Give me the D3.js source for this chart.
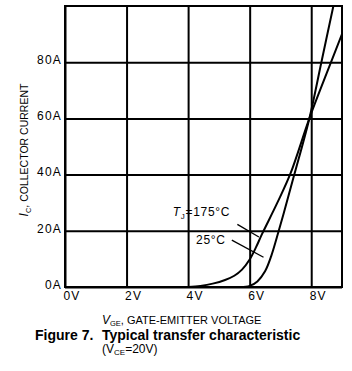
<html>
<head>
<meta charset="utf-8">
<title>Figure 7</title>
<style>
  body { margin: 0; background: #fff; }
  text { font-family: "Liberation Sans", Arial, sans-serif; fill: #000; }
</style>
<script src="https://d3js.org/d3.v7.min.js"></script>
</head>
<body>
<script>
// values
var vgeHot = [4.0, 4.4, 4.8, 5.2, 5.5, 5.75, 6.0, 6.2, 6.4, 6.9, 7.33, 7.94, 8.5, 9.0];
var icHot  = [0, 0.4, 1.2, 2.5, 4.0, 6.2, 9.8, 14.0, 18.8, 30, 40.5, 60, 76, 90];
var vgeCold = [5.7, 6.0, 6.25, 6.5, 6.7, 6.88, 7.1, 7.45, 7.94, 8.33, 8.72];
var icCold  = [0, 0.4, 2.0, 5.6, 11, 17.5, 26, 40, 60, 80, 100];
var xTicks = [0, 2, 4, 6, 8];
var xTickLabels = ["0V", "2V", "4V", "6V", "8V"];
var yTicks = [0, 20, 40, 60, 80];
var yTickLabels = ["0A", "20A", "40A", "60A", "80A"];

var width = 352, height = 371;
var pLeft = 65, pRight = 342, pTop = 6, pBottom = 287;

var svg = d3.select("body").append("svg")
  .attr("width", width)
  .attr("height", height);

var x = d3.scaleLinear().domain([0, 9]).range([pLeft, pRight]);
var y = d3.scaleLinear().domain([0, 100]).range([pBottom, pTop]);

// grid (vertical)
var gx = svg.append("g")
  .attr("transform", "translate(0," + pBottom + ")")
  .call(d3.axisBottom(x).tickValues(xTicks).tickSize(-(pBottom - pTop))
    .tickFormat(function(d, i) { return xTickLabels[i]; }));
gx.select(".domain").remove();
gx.selectAll("line").attr("stroke", "#000").attr("stroke-width", 2);
gx.selectAll("text")
  .attr("text-anchor", "start")
  .attr("x", -2)
  .attr("y", 13)
  .attr("dy", null)
  .attr("fill", "#000")
  .style("font-family", "Liberation Sans, Arial, sans-serif")
  .style("font-size", "12px")
  .style("letter-spacing", "1.2px");

// grid (horizontal)
var gy = svg.append("g")
  .attr("transform", "translate(" + pLeft + ",0)")
  .call(d3.axisLeft(y).tickValues(yTicks).tickSize(-(pRight - pLeft))
    .tickFormat(function(d, i) { return yTickLabels[i]; }));
gy.select(".domain").remove();
gy.selectAll("line").attr("stroke", "#000").attr("stroke-width", 2);
gy.selectAll("text")
  .attr("x", -3)
  .attr("dy", "0.1em")
  .attr("fill", "#000")
  .style("font-family", "Liberation Sans, Arial, sans-serif")
  .style("font-size", "12px")
  .style("letter-spacing", "1.2px");

// frame
svg.append("rect")
  .attr("x", pLeft).attr("y", pTop)
  .attr("width", pRight - pLeft).attr("height", pBottom - pTop)
  .attr("fill", "none").attr("stroke", "#000").attr("stroke-width", 2);

svg.append("clipPath").attr("id", "plot")
  .append("rect")
  .attr("x", pLeft).attr("y", pTop)
  .attr("width", pRight - pLeft).attr("height", pBottom - pTop);

var line = d3.line()
  .x(function(d) { return x(d[0]); })
  .y(function(d) { return y(d[1]); })
  .curve(d3.curveCatmullRom.alpha(0.5));

var curves = [d3.zip(vgeHot, icHot), d3.zip(vgeCold, icCold)];
svg.append("g").attr("clip-path", "url(#plot)")
  .selectAll("path")
  .data(curves)
  .enter()
  .append("path")
  .attr("d", line)
  .attr("fill", "none")
  .attr("stroke", "#000")
  .attr("stroke-width", 2);

// curve labels with leader lines
var leaders = [[[5.6, 22.3], [6.3, 17.8]], [[5.42, 16.7], [6.45, 10.6]]];
svg.selectAll(".leader")
  .data(leaders)
  .enter()
  .append("line")
  .attr("class", "leader")
  .attr("x1", function(d) { return x(d[0][0]); })
  .attr("y1", function(d) { return y(d[0][1]); })
  .attr("x2", function(d) { return x(d[1][0]); })
  .attr("y2", function(d) { return y(d[1][1]); })
  .attr("stroke", "#000")
  .attr("stroke-width", 1.3);

var tLabel = svg.append("text")
  .attr("x", x(3.5)).attr("y", y(25.4))
  .style("font-size", "12px")
  .style("letter-spacing", "0.7px");
tLabel.append("tspan").style("font-style", "italic").text("T");
tLabel.append("tspan").attr("dy", 3).style("font-size", "8px").text("J");
tLabel.append("tspan").attr("dy", -3).text("=175°C");

svg.append("text")
  .attr("x", x(4.26)).attr("y", y(15.3))
  .style("font-size", "12px")
  .style("letter-spacing", "0.7px")
  .text("25°C");

// axis titles
var yt = svg.append("text")
  .attr("transform", "translate(28,150) rotate(-90)")
  .attr("text-anchor", "middle")
  .style("font-size", "10.5px");
yt.append("tspan").style("font-style", "italic").style("font-size", "12px").text("I");
yt.append("tspan").attr("dy", 2.5).style("font-size", "7.5px").text("C");
yt.append("tspan").attr("dy", -2.5).text(", COLLECTOR CURRENT");

var xt = svg.append("text")
  .attr("x", 102).attr("y", 324)
  .style("font-size", "11px");
xt.append("tspan").style("font-style", "italic").style("font-size", "12px").text("V");
xt.append("tspan").attr("dy", 2).style("font-size", "7.5px").text("GE");
xt.append("tspan").attr("dy", -2).text(", GATE-EMITTER VOLTAGE");

// caption
svg.append("text")
  .attr("x", 35).attr("y", 340)
  .style("font-size", "14px").style("font-weight", "bold")
  .text("Figure 7.");
svg.append("text")
  .attr("x", 102).attr("y", 340)
  .style("font-size", "14px").style("font-weight", "bold")
  .text("Typical transfer characteristic");
var sub = svg.append("text")
  .attr("x", 102).attr("y", 353)
  .style("font-size", "12px");
sub.append("tspan").text("(V");
sub.append("tspan").attr("dy", 2).style("font-size", "8px").text("CE");
sub.append("tspan").attr("dy", -2).text("=20V)");
</script>
</body>
</html>
